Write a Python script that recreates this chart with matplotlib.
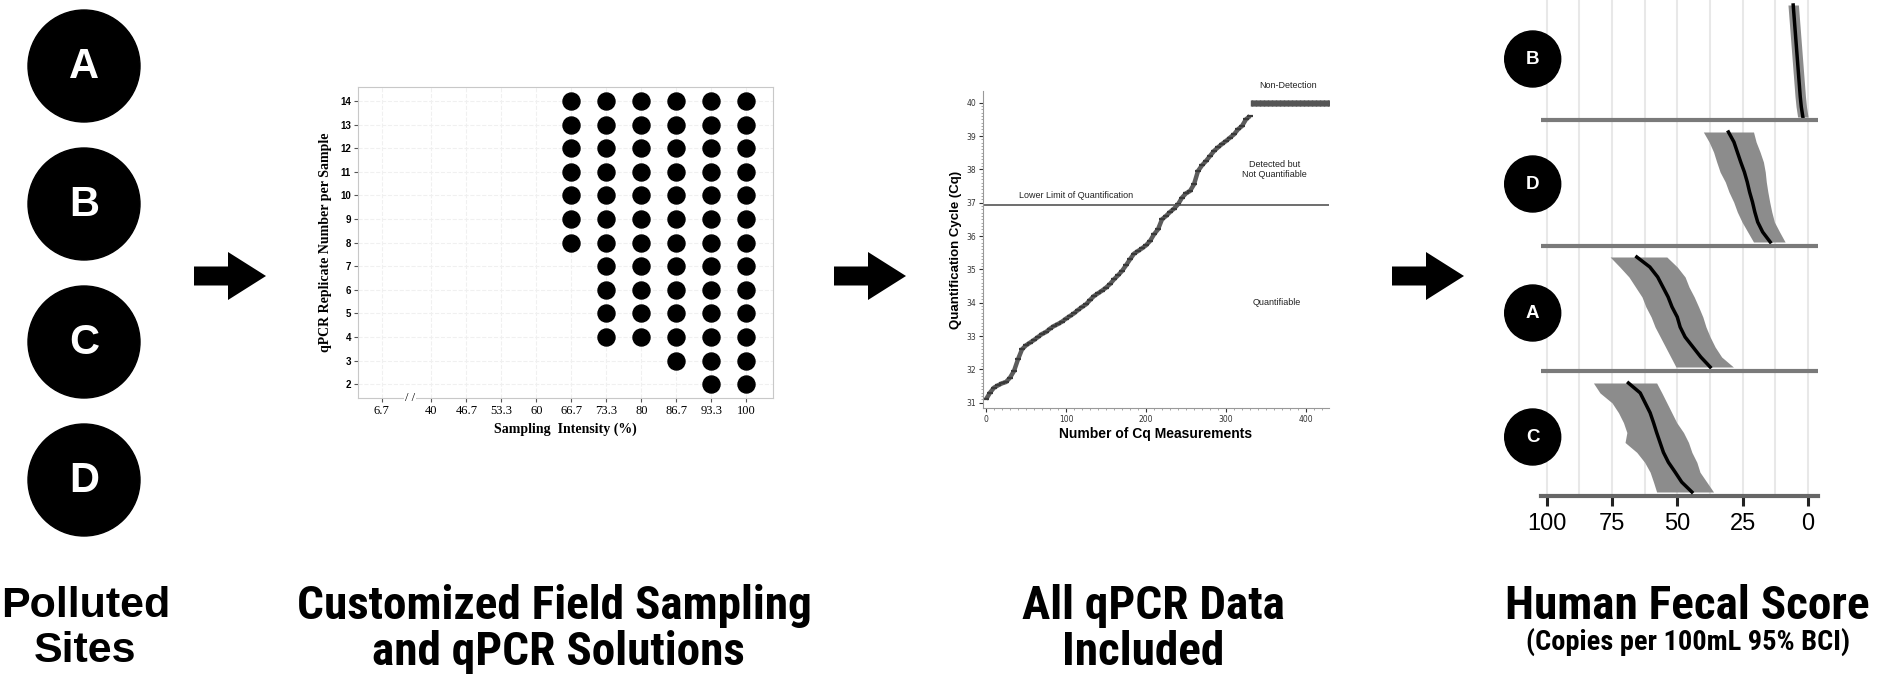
import numpy as np
import matplotlib
matplotlib.use("Agg")
from matplotlib import pyplot as plt
from matplotlib import font_manager
from matplotlib.patches import Circle, FancyArrow

# ---- data -------------------------------------------------------------
sites = ['A', 'B', 'C', 'D']

# panel 2: sampling intensity vs qPCR replicate number
intensity_labels = ['6.7', '40', '46.7', '53.3', '60', '66.7', '73.3', '80', '86.7', '93.3', '100']
# smallest replicate number that works for each intensity (None = no solution)
min_replicates = [None, None, None, None, None, 8, 4, 4, 3, 2, 2]
max_replicates = 14

# panel 3: sorted Cq values (measurement index, Cq)
cq_index = [0, 5, 10, 15, 20, 25, 30, 35, 40, 45, 50, 55, 60, 65, 70, 75, 80, 85, 90, 95,
            100, 105, 110, 115, 120, 125, 130, 135, 140, 145, 150, 155, 160, 165, 170, 175,
            180, 185, 190, 195, 200, 205, 210, 215, 220, 225, 230, 235, 240, 245, 250, 255,
            260, 265, 270, 275, 280, 285, 290, 295, 300, 305, 310, 315, 320, 325, 330]
cq_value = [31.1, 31.3, 31.45, 31.52, 31.58, 31.62, 31.75, 31.95, 32.3, 32.6, 32.72, 32.8,
            32.88, 32.97, 33.06, 33.12, 33.22, 33.3, 33.36, 33.43, 33.52, 33.6, 33.68, 33.78,
            33.87, 33.95, 34.08, 34.2, 34.28, 34.36, 34.45, 34.56, 34.7, 34.82, 34.95, 35.12,
            35.3, 35.47, 35.55, 35.63, 35.72, 35.85, 36.05, 36.2, 36.5, 36.6, 36.72, 36.82,
            36.95, 37.15, 37.28, 37.35, 37.55, 37.95, 38.12, 38.25, 38.4, 38.55, 38.66, 38.76,
            38.85, 38.95, 39.05, 39.2, 39.3, 39.5, 39.6]
n_detected = 331
n_total = 430
nondetect_cq = 40
lloq = 36.93

# panel 4: human fecal score, median and 95% BCI per site (top -> bottom rows)
score_sites = ['B', 'D', 'A', 'C']
score_med = {
    'B': [5.6, 5.3, 5.0, 4.7, 4.4, 4.1, 3.8, 3.5, 3.2, 2.9, 2.5, 1.9],
    'D': [30.4, 28.3, 27.0, 25.7, 24.3, 23.2, 22.3, 21.2, 20.3, 19.2, 17.3, 14.4],
    'A': [65.5, 60.5, 57.5, 55.5, 53.5, 52.0, 50.0, 48.9, 47.0, 44.0, 41.0, 37.4],
    'C': [68.7, 64.2, 62.3, 60.4, 59.1, 57.9, 56.6, 55.3, 53.4, 50.8, 48.3, 44.4],
}
score_hi = {
    'B': [7.6, 7.3, 7.0, 6.7, 6.4, 6.1, 5.8, 5.5, 5.2, 4.9, 4.5, 3.9],
    'D': [40.0, 37.8, 36.1, 34.9, 33.6, 31.6, 30.2, 28.4, 27.0, 25.2, 23.0, 20.8],
    'A': [75.7, 72.0, 68.5, 66.0, 63.5, 62.0, 60.0, 58.5, 56.5, 54.5, 52.5, 50.5],
    'C': [82.1, 79.6, 75.0, 72.5, 70.6, 69.3, 70.0, 65.5, 62.5, 60.4, 59.1, 57.9],
}
score_lo = {
    'B': [3.6, 3.3, 3.0, 2.7, 2.4, 2.1, 1.8, 1.5, 1.2, 0.9, 0.5, -0.1],
    'D': [20.8, 19.8, 18.3, 17.0, 16.3, 15.9, 15.3, 14.6, 13.8, 12.8, 10.8, 8.7],
    'A': [54.0, 50.0, 47.0, 45.5, 43.5, 41.8, 40.2, 39.0, 37.4, 35.5, 33.0, 28.5],
    'C': [57.9, 55.9, 54.0, 52.1, 50.2, 47.6, 45.7, 44.4, 42.5, 41.3, 38.7, 36.1],
}
score_ticks = [100, 75, 50, 25, 0]

# ---- fonts ---------------------------------------------------------------
# narrow bold face for the titles (Arial Narrow look); only faces that have a bold weight
bold_faces = set()
for f in font_manager.fontManager.ttflist:
    w = f.weight if isinstance(f.weight, int) else font_manager.weight_dict.get(f.weight, 400)
    if w >= 700:
        bold_faces.add(f.name)
narrow_choices = ['Liberation Sans Narrow', 'Arial Narrow', 'Roboto Condensed', 'Archivo Narrow',
                  'PT Sans Narrow', 'Pragati Narrow', 'Fira Sans Condensed']
narrow_found = [n for n in narrow_choices if n in bold_faces]
NARROW = [(narrow_found or ['Liberation Sans'])[0], 'DejaVu Sans']
SANS = ['Liberation Sans', 'DejaVu Sans']
SERIF = ['Liberation Serif', 'DejaVu Serif']

# ---- layout -------------------------------------------------------------
W, H = 1881, 675
fig = plt.figure(figsize=(W / 100, H / 100), dpi=100)
fig.patch.set_facecolor('white')


def px_axes(left, top, right, bottom):
    return fig.add_axes([left / W, 1 - bottom / H, (right - left) / W, (bottom - top) / H])


# ---- panel 2: dot grid ----------------------------------------------------
ax1 = px_axes(358, 87, 773, 398)
intensity_pos = [-1.42, 0, 1, 2, 3, 4, 5, 6, 7, 8, 9]
for pos, low in zip(intensity_pos, min_replicates):
    if low is None:
        continue
    reps = list(range(low, max_replicates + 1))
    ax1.scatter([pos] * len(reps), reps, s=150, color='black', zorder=3)
ax1.set_xlim(-2.1, 9.76)
ax1.set_ylim(1.42, 14.59)
ax1.set_xticks(intensity_pos)
ax1.set_xticklabels(intensity_labels, family=SERIF, fontsize=9)
ax1.set_yticks(range(2, 15))
ax1.set_yticklabels([str(v) for v in range(2, 15)], family=SANS, fontsize=7, weight='bold')
ax1.tick_params(length=3, color='#555555', pad=2)
for s in ax1.spines.values():
    s.set_color('#c8c8c8')
ax1.grid(color='#f0f0f0', lw=0.8, ls='--', zorder=0)
ax1.set_xlabel('Sampling  Intensity (%)', family=SERIF, fontsize=10, weight='bold', labelpad=4)
ax1.set_ylabel('qPCR Replicate Number per Sample', family=SERIF, fontsize=10, weight='bold',
               labelpad=6)
ax1.text(-0.62, 1.42, '/ /', ha='center', va='center', fontsize=9, family=SERIF,
         clip_on=False, zorder=5, bbox=dict(facecolor='white', edgecolor='none', pad=0.5))

# ---- panel 3: Cq measurements ---------------------------------------------
ax2 = px_axes(983, 91, 1329, 408)
ax2.plot(cq_index, cq_value, color='#4a4a4a', lw=3.2, solid_capstyle='butt', alpha=0.9)
ax2.plot(cq_index, cq_value, ls='none', marker='_', ms=5, color='#3a3a3a', mew=1.6)
nd_x = np.arange(n_detected, n_total)
ax2.plot(nd_x, [nondetect_cq] * len(nd_x), ls='none', marker='|', ms=4, color='#555555',
         mew=1.0)
ax2.axhline(lloq, color='#555555', lw=1.2)
ax2.set_xlim(-3.75, 428.75)
ax2.set_ylim(30.84, 40.35)
ax2.set_yticks(range(31, 41))
ax2.set_xticks([0, 100, 200, 300, 400])
ax2.set_xticks(np.arange(0, 430, 10), minor=True)
ax2.set_yticks(np.arange(31, 40.01, 0.1), minor=True)
ax2.tick_params(labelsize=5.5, colors='#333333', length=3, width=0.8, pad=2)
ax2.tick_params(which='minor', length=1.5, width=0.6, color='#999999')
for side in ['top', 'right']:
    ax2.spines[side].set_visible(False)
for side in ['left', 'bottom']:
    ax2.spines[side].set_color('#999999')
ax2.set_xlabel('Number of Cq Measurements', family=SANS, fontsize=10, weight='bold',
               labelpad=2)
ax2.set_ylabel('Quantification Cycle (Cq)', family=SANS, fontsize=9.5, weight='bold',
               labelpad=3)
small = dict(family=SANS, fontsize=6.5, color='#222222')
ax2.text(113, 37.22, 'Lower Limit of Quantification', ha='center', va='center', **small)
ax2.text(361, 38.0, 'Detected but\nNot Quantifiable', ha='center', va='center', **small)
ax2.text(364, 34.0, 'Quantifiable', ha='center', va='center', **small)
ax2.text(378, 40.38, 'Non-Detection', ha='center', va='bottom', clip_on=False, **small)

# ---- panel 4: human fecal score --------------------------------------------
ax3 = px_axes(1540.7, 0, 1818, 496)
panel_bounds = {'B': (5, 117), 'D': (132, 242), 'A': (257, 367), 'C': (383, 492)}
for g in np.arange(0, 100.1, 12.5):
    ax3.axvline(g, color='#e8e8e8', lw=1.5, zorder=0)
for site in score_sites:
    top, bot = panel_bounds[site]
    rows = np.linspace(top, bot, len(score_med[site]))
    ax3.fill_betweenx(rows, score_lo[site], score_hi[site], color='#8c8c8c', lw=0, zorder=2)
    ax3.plot(score_med[site], rows, color='black', lw=2.5, zorder=3)
for sep in [120, 246, 371]:
    ax3.axhline(sep, color='#7a7a7a', lw=3, zorder=4)
ax3.set_xlim(102.3, -3.9)
ax3.set_ylim(496, 0)
ax3.set_xticks(score_ticks)
ax3.set_xticklabels([str(t) for t in score_ticks], family=SANS, fontsize=17)
ax3.set_yticks([])
ax3.tick_params(axis='x', length=7.5, width=2.2, color='#222222', pad=5)
for side in ['top', 'right', 'left']:
    ax3.spines[side].set_visible(False)
ax3.spines['bottom'].set_color('#666666')
ax3.spines['bottom'].set_linewidth(3)
ax3.patch.set_alpha(0)

# ---- overlay: circles, arrows, titles ---------------------------------------
ov = fig.add_axes([0, 0, 1, 1])
ov.set_xlim(0, W)
ov.set_ylim(H, 0)
ov.axis('off')
ov.patch.set_alpha(0)

for i, site in enumerate(sites):
    cy = 66 + 138 * i
    ov.add_patch(Circle((84, cy), 56, color='black'))
    ov.text(84, cy + 1, site, ha='center', va='center', color='white', fontsize=30,
            weight='bold', family=SANS)

small_centers = {'B': 59, 'D': 184, 'A': 313, 'C': 437}
for site in score_sites:
    cy = small_centers[site]
    ov.add_patch(Circle((1532.7, cy), 28, color='black', zorder=5))
    ov.text(1532.7, cy + 0.5, site, ha='center', va='center', color='white', fontsize=13.5,
            weight='bold', family=SANS, zorder=6)

for x0 in [194, 834, 1392]:
    ov.add_patch(FancyArrow(x0, 276, 72, 0, width=19, head_width=48, head_length=38,
                            length_includes_head=True, color='black', lw=0))

ov.text(86, 606, 'Polluted', ha='center', va='center', fontsize=31, weight='bold', family=SANS)
ov.text(85, 651, 'Sites', ha='center', va='center', fontsize=31, weight='bold', family=SANS)

# titles: size the narrow font so the widest line spans the same width as the reference
title = dict(ha='center', va='center', weight='bold', family=NARROW)
renderer = fig.canvas.get_renderer()
probe = ov.text(0, 0, 'Customized Field Sampling', fontsize=30, **title)
probe_w = probe.get_window_extent(renderer=renderer).width
probe.remove()
title_size = min(36, 30 * 515 / probe_w)
sub_size = title_size * 0.6

ov.text(554, 606, 'Customized Field Sampling', fontsize=title_size, **title)
ov.text(558, 652, 'and qPCR Solutions', fontsize=title_size, **title)
ov.text(1153, 606, 'All qPCR Data', fontsize=title_size, **title)
ov.text(1143, 652, 'Included', fontsize=title_size, **title)
ov.text(1687, 606, 'Human Fecal Score', fontsize=title_size, **title)
ov.text(1688, 642, '(Copies per 100mL 95% BCI)', fontsize=sub_size, **title)

fig.savefig('out.png', dpi=100)
